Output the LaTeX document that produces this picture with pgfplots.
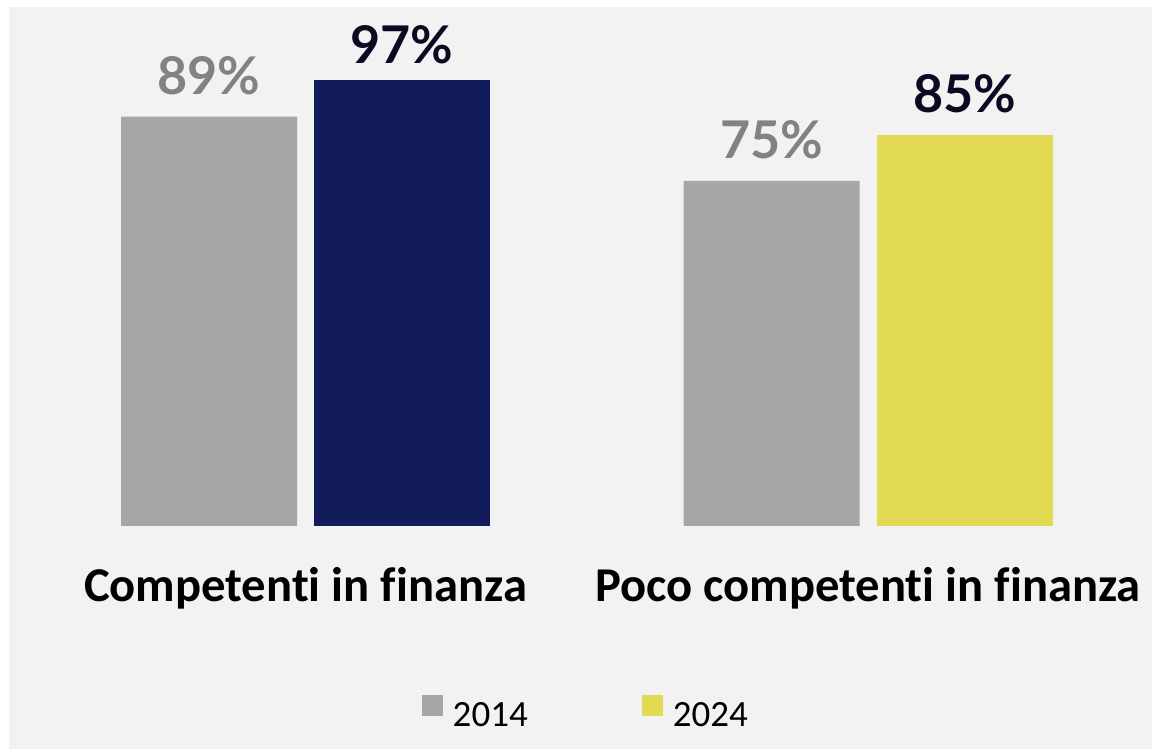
\documentclass[border=0pt]{standalone}
\usepackage{pgfplots}
\pgfplotsset{compat=1.18}
\usepackage{fontspec}
\newfontfamily\lato{Lato}
\newfontfamily\carlito[Ligatures=NoCommon]{Carlito}

\definecolor{BgColor}{HTML}{F2F2F2}
\definecolor{OldColor}{HTML}{A6A6A6}
\definecolor{NavyColor}{HTML}{121C5A}
\definecolor{YellowColor}{HTML}{E2DA52}
\definecolor{OldLabel}{HTML}{828282}
\definecolor{NewLabel}{HTML}{0A0A23}

\begin{document}
\begin{tikzpicture}
  \useasboundingbox (0,0) rectangle (576pt,374.5pt);
  \fill[white] (0,0) rectangle (576pt,374.5pt);
  \fill[BgColor] (4.5pt,0) rectangle (576pt,371pt);
  \begin{axis}[
    at={(12.125pt,111.5pt)}, anchor=south west,
    scale only axis,
    width=562.5pt, height=230pt,
    xmin=-0.5, xmax=1.5, ymin=0, ymax=100,
    ybar, bar width=88pt,
    axis line style={draw=none},
    major tick length=0pt,
    ytick=\empty,
    xtick={0,1},
    xticklabels={Competenti in finanza, Poco competenti in finanza},
    xticklabel style={font=\carlito\bfseries\fontsize{24.3}{24.3}\selectfont, anchor=base, yshift=-38pt, inner sep=0pt},
    nodes near coords={\pgfmathprintnumber{\pgfplotspointmeta}\%},
    /pgf/number format/assume math mode=true,
    every node near coord/.append style={font=\lato\bfseries\fontsize{26}{26}\selectfont, anchor=base, yshift=11pt, inner sep=0pt},
    legend image code/.code={\fill[#1] (0pt,0pt) rectangle (10.5pt,10.5pt);},
    legend style={at={(0.5,-0.409)}, anchor=center, draw=none, fill=none,
      legend columns=2, font=\carlito\fontsize{18.5}{18.5}\selectfont,
      /tikz/every odd column/.append style={column sep=3pt},
      /tikz/every even column/.append style={column sep=55pt}},
    legend cell align=left,
  ]
  \addplot[fill=OldColor, draw=none, bar shift=-48.25pt,
    every node near coord/.append style={text=OldLabel}]
    coordinates {(0,89) (1,75)};
  \addlegendentry{2014}
  \addplot[fill=YellowColor, draw=none, bar shift=48.25pt,
    every node near coord/.append style={text=NewLabel}]
    coordinates {(1,85)};
  \addlegendentry{2024}
  \addplot[fill=NavyColor, draw=none, bar shift=48.25pt, forget plot,
    every node near coord/.append style={text=NewLabel, yshift=-3pt}]
    coordinates {(0,97)};
  \end{axis}
\end{tikzpicture}
\end{document}
